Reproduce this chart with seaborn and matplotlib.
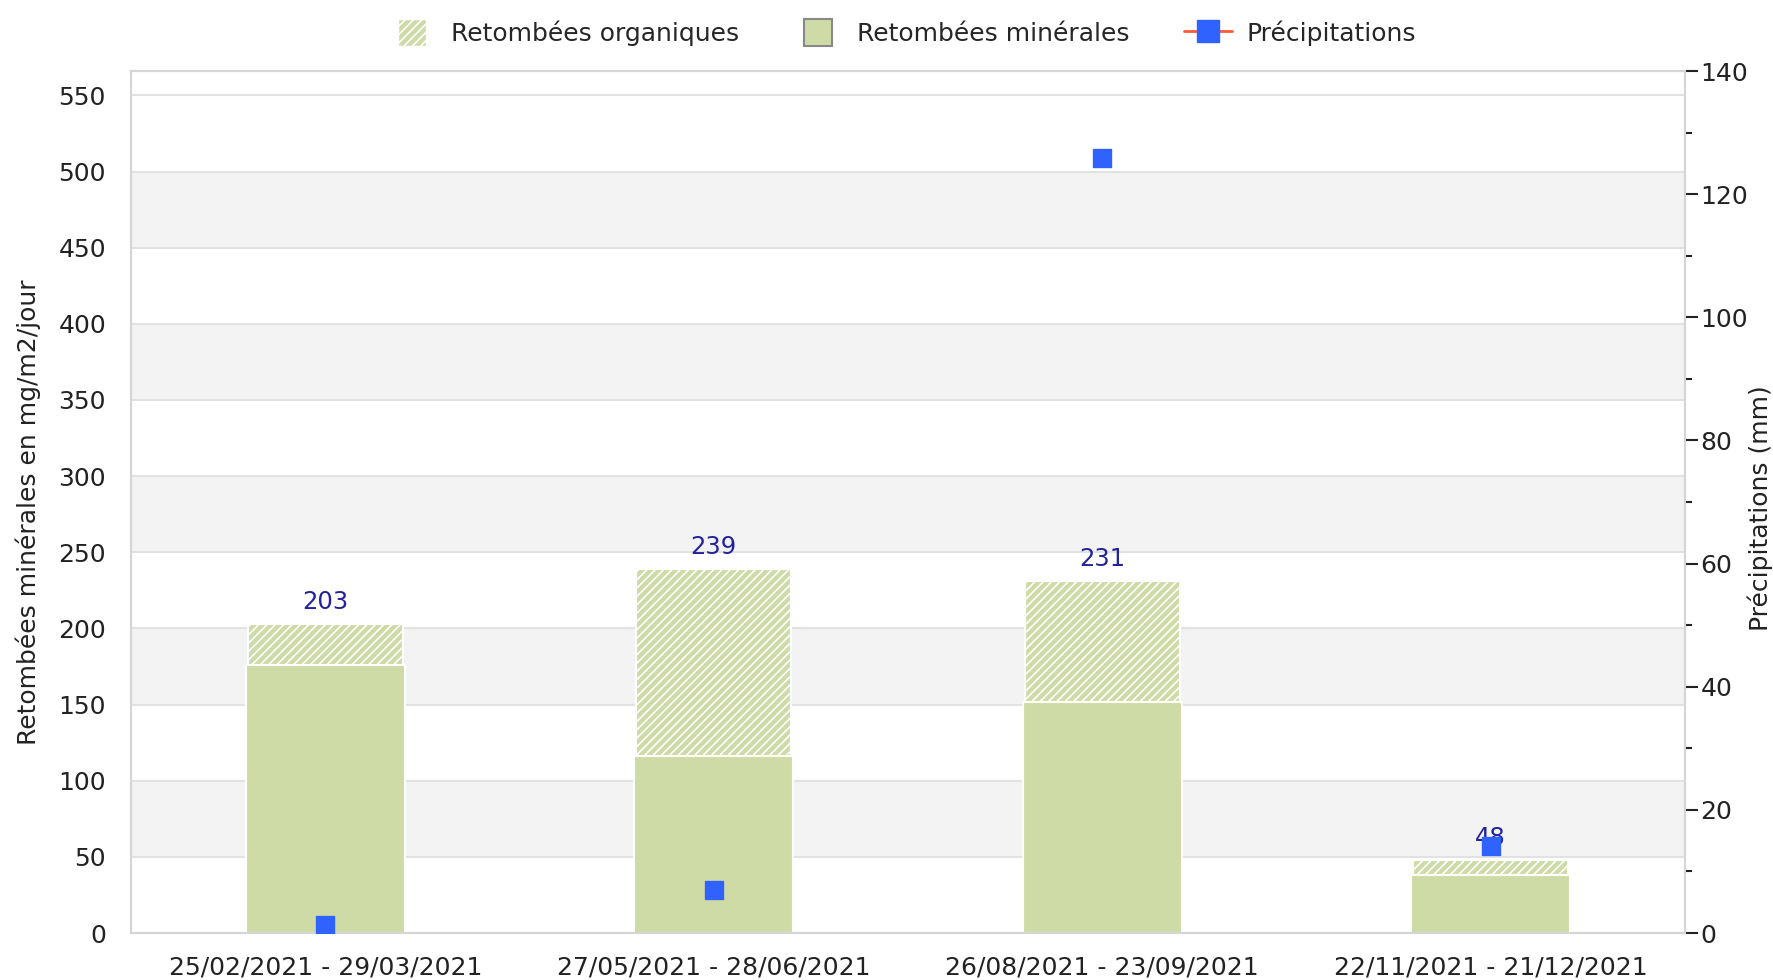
import numpy as np
import pandas as pd
import seaborn as sns
from matplotlib import pyplot as plt
from matplotlib.patches import Patch, Rectangle
from matplotlib.lines import Line2D
from matplotlib.legend_handler import HandlerPatch
from matplotlib.ticker import MultipleLocator

# données
periodes = ["25/02/2021 - 29/03/2021", "27/05/2021 - 28/06/2021",
            "26/08/2021 - 23/09/2021", "22/11/2021 - 21/12/2021"]
retombees_totales = [203, 239, 231, 48]
retombees_minerales = [176, 116, 152, 38]
precipitations = [1.3, 7.0, 125.9, 14.1]

df = pd.DataFrame({
    "periode": periodes,
    "total": retombees_totales,
    "minerales": retombees_minerales,
    "precip": precipitations,
})

vert = "#cfdba6"
bleu = "#2f62ff"
texte = "#222222"
sns.set_style("white")
plt.rcParams['font.family'] = ['DejaVu Sans']
plt.rcParams['hatch.linewidth'] = 1.2

fig, ax = plt.subplots(figsize=(17.73, 9.8), dpi=100)
fig.subplots_adjust(left=131/1773, right=1685/1773, top=1-71/980, bottom=1-933/980)

# bandes grises alternées
ax.set_ylim(0, 566)
for i, y0 in enumerate(range(0, 550, 50)):
    if i % 2 == 1:
        ax.axhspan(y0, y0 + 50, color="#f3f3f3", zorder=0, lw=0)
    ax.axhline(y0, color="#e2e2e2", lw=1.5, zorder=0.5)
ax.axhline(550, color="#e2e2e2", lw=1.5, zorder=0.5)

# retombées organiques (hachurées) = total, puis minérales par-dessus
sns.barplot(data=df, x="periode", y="total", color=vert, width=0.4,
            saturation=1, ax=ax, zorder=2)
for p in ax.containers[0]:
    p.set_hatch("////")
    p.set_edgecolor("white")
    p.set_linewidth(1.5)
sns.barplot(data=df, x="periode", y="minerales", color=vert, width=0.41,
            saturation=1, ax=ax, zorder=3)
for p in ax.containers[1]:
    p.set_edgecolor("white")
    p.set_linewidth(1.5)

for i, v in enumerate(retombees_totales):
    ax.annotate(str(v), (i, v), xytext=(0, 7), textcoords="offset points",
                ha="center", va="bottom", color="#22229a", fontsize=17.5, zorder=6)

ax.set_xlim(-0.5, 3.5)
ax.set_xlabel("")
ax.set_ylabel("Retombées minérales en mg/m2/jour", fontsize=18, color=texte)
ax.yaxis.set_label_coords(-0.058, 0.488)
ax.yaxis.set_major_locator(MultipleLocator(50))
ax.tick_params(axis="y", labelsize=18, length=0, colors=texte, pad=18)
ax.tick_params(axis="x", labelsize=18, length=0, colors=texte, pad=16)
for s in ax.spines.values():
    s.set_color("#d5d5d5")
    s.set_linewidth(1.5)

# précipitations sur l'axe de droite
ax2 = ax.twinx()
ax2.set_ylim(0, 140)
sns.scatterplot(x=np.arange(len(periodes)), y=precipitations, marker="s", s=150,
                color=bleu, edgecolor=bleu, ax=ax2, zorder=5)
ax2.yaxis.set_major_locator(MultipleLocator(20))
ax2.yaxis.set_minor_locator(MultipleLocator(10))
ax2.tick_params(axis="y", which="major", length=9, width=1.5, labelsize=18,
                colors=texte, pad=2, direction="out", right=True)
ax2.tick_params(axis="y", which="minor", length=5, width=1.5, direction="out",
                colors=texte, right=True)
ax2.set_ylabel("Précipitations (mm)", fontsize=18, color=texte)
ax2.yaxis.set_label_coords(1.040, 0.493)
for s in ax2.spines.values():
    s.set_color("#d5d5d5")
    s.set_linewidth(1.5)


def carre(legend, orig_handle, xdescent, ydescent, width, height, fontsize):
    c = height * 1.25
    return Rectangle((-xdescent + (width - c) / 2, -ydescent + (height - c) / 2), c, c)


handles = [
    Patch(facecolor=vert, edgecolor="white", hatch="////", label="Retombées organiques"),
    Patch(facecolor=vert, edgecolor="#888888", linewidth=1.5, label="Retombées minérales"),
    Line2D([0], [0], color="#ff5a33", lw=2, marker="s", markersize=16,
           markerfacecolor=bleu, markeredgecolor=bleu, label="Précipitations"),
]
fig.legend(handles=handles, loc="center", bbox_to_anchor=(0.509, 0.966), ncol=3,
           frameon=False, fontsize=18, handlelength=1.9, handleheight=1.0,
           columnspacing=2.2, handletextpad=0.6,
           handler_map={Patch: HandlerPatch(patch_func=carre)})

fig.savefig("out.png", dpi=100)
